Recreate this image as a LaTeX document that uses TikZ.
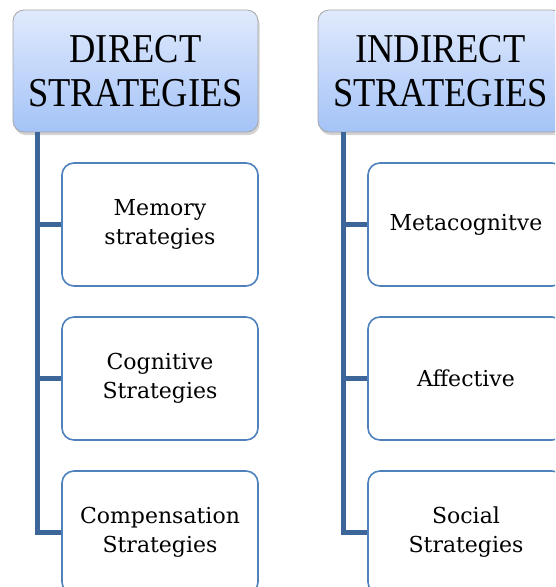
\documentclass[tikz,border=0pt]{standalone}
\usepackage{fontspec}
\usepackage{tikz}
\usetikzlibrary{shadows}
\setmainfont{DejaVu Serif}
\newfontfamily\headfont{Liberation Serif}[FakeStretch=0.89]
\definecolor{headtop}{HTML}{E0EAFD}
\definecolor{headbot}{HTML}{A4C3F7}
\definecolor{boxline}{HTML}{4F81BD}
\definecolor{trunkline}{HTML}{3C6699}

\begin{document}
\begin{tikzpicture}[x=1pt,y=-1pt,
		headbox/.style={draw=gray!70,line width=0.8pt,rounded corners=11pt,top color=headtop,bottom color=headbot,
			minimum width=245pt,minimum height=122pt,align=center,
			font=\headfont\fontsize{41}{44}\selectfont,
			drop shadow={shadow xshift=1.5pt,shadow yshift=-3pt,opacity=0.35}},
		stratbox/.style={draw=boxline,line width=1.6pt,rounded corners=12pt,fill=white,
			minimum width=196pt,minimum height=123pt,align=center,
			font=\fontsize{22}{29}\selectfont},
		branch/.style={draw=trunkline,line width=5pt}]
		\clip (0,0) rectangle (555,587);
		\useasboundingbox (0,0) rectangle (555,587);

		% left column
		\node[headbox] (dhead) at (135.5,71) {DIRECT\\STRATEGIES};
		\node[stratbox] (mem) at (160,224.5) {Memory\\strategies};
		\node[stratbox] (cog) at (160,378.5) {Cognitive\\Strategies};
		\node[stratbox] (comp) at (160,532.5) {Compensation\\Strategies};

		% right column
		\node[headbox] (ihead) at (440.5,71) {INDIRECT\\STRATEGIES};
		\node[stratbox] (meta) at (466,224.5) {Metacognitve};
		\node[stratbox] (aff) at (466,378.5) {Affective};
		\node[stratbox] (soc) at (466,532.5) {Social\\Strategies};

		% connectors
		\draw[branch] ([xshift=25pt]dhead.south west) |- (comp.west);
		\draw[branch] ([xshift=25pt]dhead.south west |- mem.west) -- (mem.west);
		\draw[branch] ([xshift=25pt]dhead.south west |- cog.west) -- (cog.west);

		\draw[branch] ([xshift=26pt]ihead.south west) |- (soc.west);
		\draw[branch] ([xshift=26pt]ihead.south west |- meta.west) -- (meta.west);
		\draw[branch] ([xshift=26pt]ihead.south west |- aff.west) -- (aff.west);
	\end{tikzpicture}
\end{document}
